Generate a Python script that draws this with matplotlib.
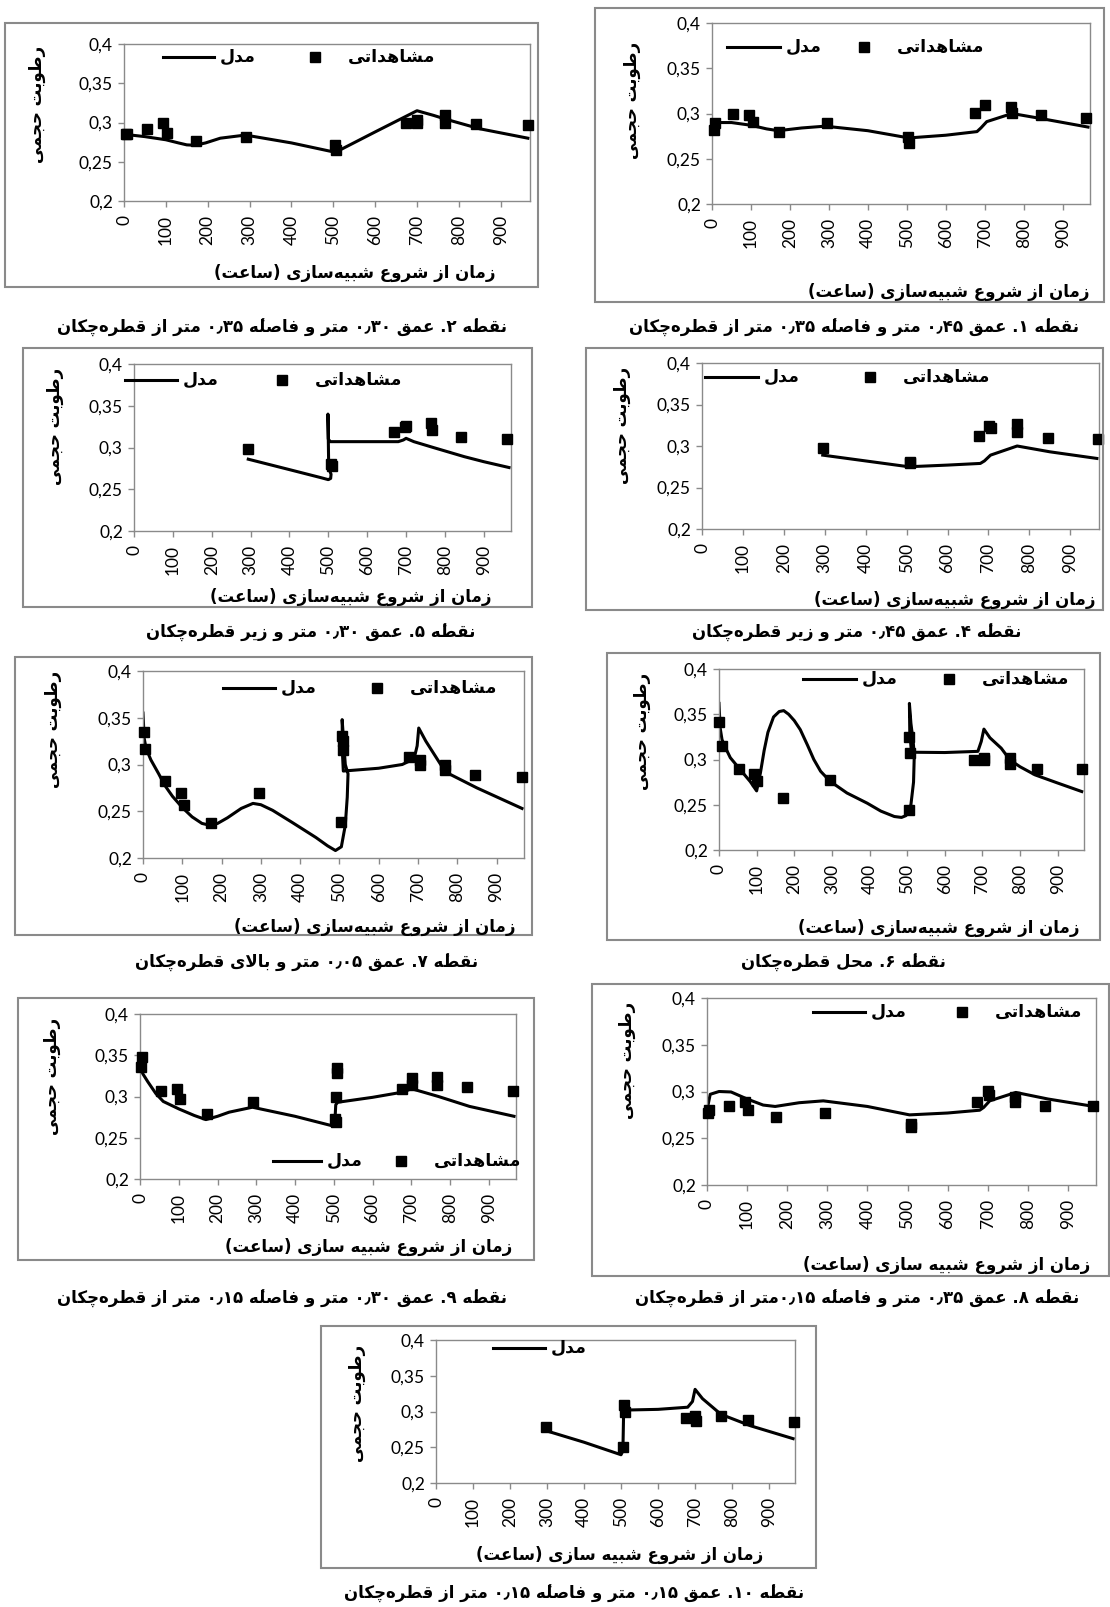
import matplotlib
matplotlib.use('Agg')
import matplotlib.pyplot as plt
from matplotlib.patches import Rectangle

# ---- data ----
ticks_x = [0, 100, 200, 300, 400, 500, 600, 700, 800, 900]
ticks_y = [0.2, 0.25, 0.3, 0.35, 0.4]

obs_t_1 = [4, 7, 55, 96, 105, 171, 296, 503, 506, 676, 701, 768, 770, 845, 961]
obs_v_1 = [0.282, 0.289, 0.299, 0.298, 0.291, 0.280, 0.289, 0.274, 0.267, 0.3005, 0.309, 0.307, 0.3005, 0.298, 0.295]
mod_t_1 = [0, 20, 50, 100, 140, 170, 230, 290, 400, 505, 600, 680, 690, 705, 770, 850, 965]
mod_v_1 = [0.289, 0.290, 0.290, 0.287, 0.283, 0.281, 0.284, 0.286, 0.281, 0.273, 0.276, 0.280, 0.284, 0.291, 0.300, 0.294, 0.285]

obs_t_2 = [4, 8, 54, 94, 102, 171, 292, 504, 507, 673, 701, 701, 766, 768, 842, 965]
obs_v_2 = [0.285, 0.285, 0.292, 0.300, 0.286, 0.276, 0.281, 0.271, 0.265, 0.300, 0.300, 0.303, 0.309, 0.300, 0.298, 0.297]
mod_t_2 = [0, 50, 100, 130, 150, 170, 195, 230, 290, 400, 505, 600, 700, 740, 770, 850, 965]
mod_v_2 = [0.285, 0.282, 0.278, 0.274, 0.2715, 0.271, 0.274, 0.280, 0.284, 0.274, 0.262, 0.288, 0.315, 0.309, 0.304, 0.292, 0.280]

obs_t_4 = [295, 507, 509, 678, 702, 705, 770, 770, 845, 968]
obs_v_4 = [0.297, 0.281, 0.279, 0.3115, 0.3245, 0.3216, 0.3265, 0.3164, 0.310, 0.308]
mod_t_4 = [295, 400, 505, 600, 680, 690, 705, 770, 850, 965]
mod_v_4 = [0.289, 0.282, 0.275, 0.277, 0.279, 0.282, 0.289, 0.300, 0.293, 0.285]

obs_t_5 = [294, 508, 510, 670, 698, 700, 765, 766, 842, 959]
obs_v_5 = [0.2988, 0.280, 0.278, 0.3188, 0.324, 0.3256, 0.3296, 0.3208, 0.312, 0.3096]
mod_t_5 = [294, 400, 480, 500, 506, 507, 501, 499, 500, 505, 600, 680, 693, 700, 720, 770, 850, 900, 965]
mod_v_5 = [0.286, 0.2735, 0.264, 0.2615, 0.263, 0.268, 0.275, 0.340, 0.310, 0.307, 0.307, 0.307, 0.309, 0.311, 0.307, 0.300, 0.289, 0.283, 0.276]

obs_t_6 = [1, 7, 54, 93, 100, 170, 295, 506, 506, 508, 677, 704, 704, 773, 773, 844, 966]
obs_v_6 = [0.341, 0.315, 0.289, 0.284, 0.276, 0.257, 0.277, 0.244, 0.325, 0.307, 0.300, 0.299, 0.302, 0.3015, 0.295, 0.289, 0.289]
mod_t_6 = [0, 3, 8, 16, 30, 54, 83, 100, 110, 120, 130, 145, 160, 172, 185, 200, 216, 235, 252, 270, 295, 340, 394, 430, 466,
           485, 497, 510, 517, 519, 516, 510, 506, 507, 511, 520, 600, 688, 697, 704, 720, 750, 773, 800, 840, 900, 964]
mod_v_6 = [0.362, 0.335, 0.322, 0.314, 0.302, 0.290, 0.2756, 0.2653, 0.285, 0.310, 0.330, 0.347, 0.353, 0.354, 0.350, 0.343,
           0.333, 0.316, 0.300, 0.287, 0.276, 0.263, 0.2517, 0.243, 0.237, 0.236, 0.238, 0.250, 0.275, 0.305, 0.320, 0.340,
           0.362, 0.330, 0.310, 0.308, 0.3077, 0.309, 0.320, 0.3336, 0.324, 0.3125, 0.2996, 0.292, 0.283, 0.274, 0.2646]

obs_t_7 = [2, 6, 55, 96, 105, 173, 295, 504, 506, 508, 510, 678, 704, 704, 769, 769, 846, 965]
obs_v_7 = [0.335, 0.317, 0.282, 0.269, 0.2566, 0.237, 0.269, 0.239, 0.330, 0.325, 0.315, 0.308, 0.305, 0.300, 0.300, 0.2944, 0.289, 0.2865]
mod_t_7 = [0, 3, 8, 20, 40, 55, 75, 100, 125, 150, 170, 190, 215, 250, 280, 300, 330, 380, 440, 470, 490, 505, 515, 520,
           522, 515, 507, 508, 510, 600, 660, 690, 698, 702, 720, 770, 850, 965]
mod_v_7 = [0.355, 0.328, 0.317, 0.305, 0.290, 0.278, 0.266, 0.254, 0.244, 0.237, 0.235, 0.237, 0.243, 0.253, 0.2584, 0.257,
           0.251, 0.238, 0.222, 0.213, 0.208, 0.212, 0.235, 0.265, 0.290, 0.300, 0.348, 0.310, 0.293, 0.296, 0.300, 0.306,
           0.320, 0.339, 0.325, 0.292, 0.275, 0.253]

obs_t_8 = [2, 6, 56, 95, 102, 172, 294, 508, 508, 674, 701, 703, 767, 769, 843, 962]
obs_v_8 = [0.277, 0.280, 0.284, 0.2893, 0.280, 0.273, 0.277, 0.2654, 0.262, 0.289, 0.301, 0.296, 0.294, 0.2886, 0.284, 0.285]
mod_t_8 = [0, 8, 30, 60, 100, 140, 170, 230, 290, 400, 505, 600, 680, 690, 705, 770, 850, 965]
mod_v_8 = [0.280, 0.297, 0.300, 0.2995, 0.292, 0.2855, 0.284, 0.288, 0.290, 0.284, 0.275, 0.277, 0.280, 0.283, 0.290, 0.299, 0.292, 0.284]

obs_t_9 = [2, 5, 54, 95, 103, 172, 292, 502, 505, 505, 509, 509, 675, 701, 701, 767, 767, 844, 962]
obs_v_9 = [0.336, 0.348, 0.3067, 0.3095, 0.2974, 0.2783, 0.2933, 0.273, 0.269, 0.2994, 0.334, 0.328, 0.3095, 0.323, 0.3136,
           0.3237, 0.3136, 0.311, 0.3067]
mod_t_9 = [0, 20, 41, 60, 100, 140, 170, 200, 230, 290, 400, 500, 503, 505, 510, 600, 680, 700, 770, 850, 965]
mod_v_9 = [0.333, 0.318, 0.3035, 0.294, 0.285, 0.277, 0.272, 0.276, 0.281, 0.287, 0.276, 0.264, 0.272, 0.290, 0.293, 0.299,
           0.3055, 0.3095, 0.300, 0.288, 0.276]

obs_t_10 = [298, 505, 508, 510, 676, 700, 703, 769, 843, 968]
obs_v_10 = [0.278, 0.251, 0.3084, 0.300, 0.2907, 0.2944, 0.287, 0.294, 0.288, 0.285]
mod_t_10 = [295, 400, 500, 505, 507, 510, 600, 680, 693, 700, 720, 770, 850, 965]
mod_v_10 = [0.2735, 0.257, 0.2395, 0.245, 0.300, 0.302, 0.303, 0.306, 0.314, 0.331, 0.318, 0.296, 0.280, 0.262]

ylabel_txt = 'رطوبت حجمی'
xlabel_a = 'زمان از شروع شبیه\u200cسازی (ساعت)'
xlabel_b = 'زمان از شروع شبیه سازی (ساعت)'
leg_model = 'مدل'
leg_obs = 'مشاهداتی'
captions = {
    1: 'نقطۀ ۱. عمق ۰٫۴۵ متر و فاصلۀ ۰٫۳۵ متر از قطره\u200cچکان',
    2: 'نقطۀ ۲. عمق ۰٫۳۰ متر و فاصلۀ ۰٫۳۵ متر از قطره\u200cچکان',
    4: 'نقطۀ ۴. عمق ۰٫۴۵ متر و زیر قطره\u200cچکان',
    5: 'نقطۀ ۵. عمق ۰٫۳۰ متر و زیر قطره\u200cچکان',
    6: 'نقطۀ ۶. محل قطره\u200cچکان',
    7: 'نقطۀ ۷. عمق ۰٫۰۵ متر و بالای قطره\u200cچکان',
    8: 'نقطۀ ۸. عمق ۰٫۳۵ متر و فاصلۀ ۰٫۱۵متر از قطره\u200cچکان',
    9: 'نقطۀ ۹. عمق ۰٫۳۰ متر و فاصلۀ ۰٫۱۵ متر از قطره\u200cچکان',
    10: 'نقطۀ ۱۰. عمق ۰٫۱۵ متر و فاصلۀ ۰٫۱۵ متر از قطره\u200cچکان',
}

# ---- simple persian shaping (matplotlib draws left to right, no joining) ----
FORMS = {
    'ا': ('\uFE8D', '\uFE8E', None, None), 'آ': ('\uFE81', '\uFE82', None, None),
    'ب': ('\uFE8F', '\uFE90', '\uFE91', '\uFE92'), 'پ': ('\uFB56', '\uFB57', '\uFB58', '\uFB59'),
    'ت': ('\uFE95', '\uFE96', '\uFE97', '\uFE98'), 'ج': ('\uFE9D', '\uFE9E', '\uFE9F', '\uFEA0'),
    'چ': ('\uFB7A', '\uFB7B', '\uFB7C', '\uFB7D'), 'ح': ('\uFEA1', '\uFEA2', '\uFEA3', '\uFEA4'),
    'د': ('\uFEA9', '\uFEAA', None, None), 'ر': ('\uFEAD', '\uFEAE', None, None),
    'ز': ('\uFEAF', '\uFEB0', None, None), 'س': ('\uFEB1', '\uFEB2', '\uFEB3', '\uFEB4'),
    'ش': ('\uFEB5', '\uFEB6', '\uFEB7', '\uFEB8'), 'ص': ('\uFEB9', '\uFEBA', '\uFEBB', '\uFEBC'),
    'ط': ('\uFEC1', '\uFEC2', '\uFEC3', '\uFEC4'),
    'ع': ('\uFEC9', '\uFECA', '\uFECB', '\uFECC'), 'ف': ('\uFED1', '\uFED2', '\uFED3', '\uFED4'),
    'ق': ('\uFED5', '\uFED6', '\uFED7', '\uFED8'), 'ک': ('\uFB8E', '\uFB8F', '\uFB90', '\uFB91'),
    'ل': ('\uFEDD', '\uFEDE', '\uFEDF', '\uFEE0'), 'م': ('\uFEE1', '\uFEE2', '\uFEE3', '\uFEE4'),
    'ن': ('\uFEE5', '\uFEE6', '\uFEE7', '\uFEE8'), 'ه': ('\uFEE9', '\uFEEA', '\uFEEB', '\uFEEC'),
    # heh with hamza above: heh form followed by the combining hamza
    'ۀ': ('\uFEE9\u0654', '\uFEEA\u0654', None, None), 'و': ('\uFEED', '\uFEEE', None, None),
    'ی': ('\uFBFC', '\uFBFD', '\uFBFE', '\uFBFF'),
}
LTR_CHARS = set('۰۱۲۳۴۵۶۷۸۹٫0123456789')
MIRROR = {'(': ')', ')': '('}


def dual(c):
    return c in FORMS and FORMS[c][2] is not None


def shape(s):
    out = []
    i = 0
    while i < len(s):
        c = s[i]
        if c not in FORMS:
            if c != '\u200c':
                out.append(c)
            i += 1
            continue
        before = i > 0 and dual(s[i - 1])
        if c == 'ل' and i + 1 < len(s) and s[i + 1] == 'ا':
            out.append('\uFEFC' if before else '\uFEFB')
            i += 2
            continue
        after = dual(c) and i + 1 < len(s) and s[i + 1] in FORMS
        f = FORMS[c]
        if before and after:
            out.append(f[3])
        elif before:
            out.append(f[1])
        elif after:
            out.append(f[2])
        else:
            out.append(f[0])
        i += 1
    return out


def fa(s):
    runs = []
    for ch in shape(s):
        if ch in LTR_CHARS and runs and runs[-1][0]:
            runs[-1][1].append(ch)
        else:
            runs.append([ch in LTR_CHARS, [ch]])
    txt = ''
    for ltr, chars in reversed(runs):
        txt += ''.join(MIRROR.get(c, c) for c in chars)
    return txt


# ---- layout in pixels ----
W, H = 1110, 1607
fig = plt.figure(figsize=(W / 100, H / 100), dpi=100)
FA = ['DejaVu Sans']
TICKF = 'Lato'
GRAY = '#8a8a8a'

panels = [
    # id, axes(l,t,r,b), box(l,t,r,b), ylabel(x, top), xlabel(right, y), legend(line x0,x1,y, obs marker x or None), xlabel text
    (1, (712, 23, 1090, 204), (595, 8, 1104, 302), (632, 42), (1090, 292), (727, 780, 47, 864), xlabel_a),
    (2, (124, 44, 530, 201), (5, 23, 538, 287), (37, 46), (495, 273), (163, 214, 57, 315), xlabel_a),
    (4, (702, 363, 1099, 529), (586, 348, 1103, 610), (622, 367), (1095, 600), (705, 758, 377, 870), xlabel_a),
    (5, (134, 364, 511, 531), (23, 348, 532, 607), (55, 368), (492, 597), (125, 177, 380, 282), xlabel_a),
    (6, (719, 669, 1084, 850), (607, 653, 1100, 940), (642, 673), (1080, 928), (803, 856, 679, 949), xlabel_a),
    (7, (143, 671, 524, 858), (15, 657, 532, 935), (53, 671), (515, 927), (223, 275, 688, 377), xlabel_a),
    (8, (707, 998, 1096, 1185), (592, 984, 1109, 1276), (627, 1002), (1090, 1265), (813, 865, 1012, 962), xlabel_b),
    (9, (140, 1014, 516, 1179), (18, 998, 534, 1260), (52, 1018), (512, 1247), (273, 321, 1161, 401), xlabel_b),
    (10, (436, 1340, 795, 1483), (321, 1326, 816, 1568), (357, 1345), (763, 1555), (493, 545, 1348, None), xlabel_b),
]
series = {
    1: (obs_t_1, obs_v_1, mod_t_1, mod_v_1), 2: (obs_t_2, obs_v_2, mod_t_2, mod_v_2),
    4: (obs_t_4, obs_v_4, mod_t_4, mod_v_4), 5: (obs_t_5, obs_v_5, mod_t_5, mod_v_5),
    6: (obs_t_6, obs_v_6, mod_t_6, mod_v_6), 7: (obs_t_7, obs_v_7, mod_t_7, mod_v_7),
    8: (obs_t_8, obs_v_8, mod_t_8, mod_v_8), 9: (obs_t_9, obs_v_9, mod_t_9, mod_v_9),
    10: (obs_t_10, obs_v_10, mod_t_10, mod_v_10),
}
cap_pos = {1: (854, 328), 2: (282, 328), 4: (857, 633), 5: (311, 633), 6: (843, 963),
           7: (307, 963), 8: (857, 1299), 9: (282, 1299), 10: (574, 1594)}

# overlay for boxes, legends and persian text
ov = fig.add_axes([0, 0, 1, 1], zorder=5)
ov.set_xlim(0, W)
ov.set_ylim(H, 0)
ov.axis('off')
ov.patch.set_alpha(0)

for pid, (l, t, r, b), box, ylab, xlab, leg, xtxt in panels:
    ax = fig.add_axes([l / W, 1 - b / H, (r - l) / W, (b - t) / H])
    ot, ovv, mt, mv = series[pid]
    ax.plot(mt, mv, color='black', lw=2.2, solid_joinstyle='round', zorder=2)
    ax.plot(ot, ovv, 's', color='black', ms=6.5, clip_on=False, zorder=3)
    ax.set_xlim(0, 970)
    ax.set_ylim(0.2, 0.4)
    ax.set_xticks(ticks_x)
    ax.set_yticks(ticks_y)
    ax.set_xticklabels([str(v) for v in ticks_x], rotation=90, fontfamily=TICKF, fontsize=12.5)
    ax.set_yticklabels([('%g' % v).replace('.', ',') for v in ticks_y], fontfamily=TICKF, fontsize=12.5)
    ax.tick_params(colors=GRAY, labelcolor='black', length=4, width=1, pad=4)
    ax.tick_params(axis='x', pad=6)
    for sp in ax.spines.values():
        sp.set_color(GRAY)
        sp.set_linewidth(1)

    bl, bt, br, bb = box
    ov.add_patch(Rectangle((bl, bt), br - bl, bb - bt, fill=False, ec=GRAY, lw=1.5))
    ov.text(ylab[0], ylab[1], fa(ylabel_txt), rotation=90, ha='center', va='top',
            family=FA, fontweight='bold', fontsize=12)
    ov.text(xlab[0], xlab[1], fa(xtxt), ha='right', va='center',
            family=FA, fontweight='bold', fontsize=12)
    x0, x1, ly, mx = leg
    ov.plot([x0, x1], [ly, ly], color='black', lw=2.2)
    ov.text(x1 + 6, ly, fa(leg_model), ha='left', va='center', family=FA, fontweight='bold', fontsize=12.5)
    if mx is not None:
        ov.plot([mx], [ly], 's', color='black', ms=6.5)
        ov.text(mx + 33, ly, fa(leg_obs), ha='left', va='center', family=FA, fontweight='bold', fontsize=12.5)
    cx, cy = cap_pos[pid]
    ov.text(cx, cy, fa(captions[pid]), ha='center', va='center', family=FA, fontweight='bold', fontsize=12)

fig.savefig('out.png', dpi=100)
